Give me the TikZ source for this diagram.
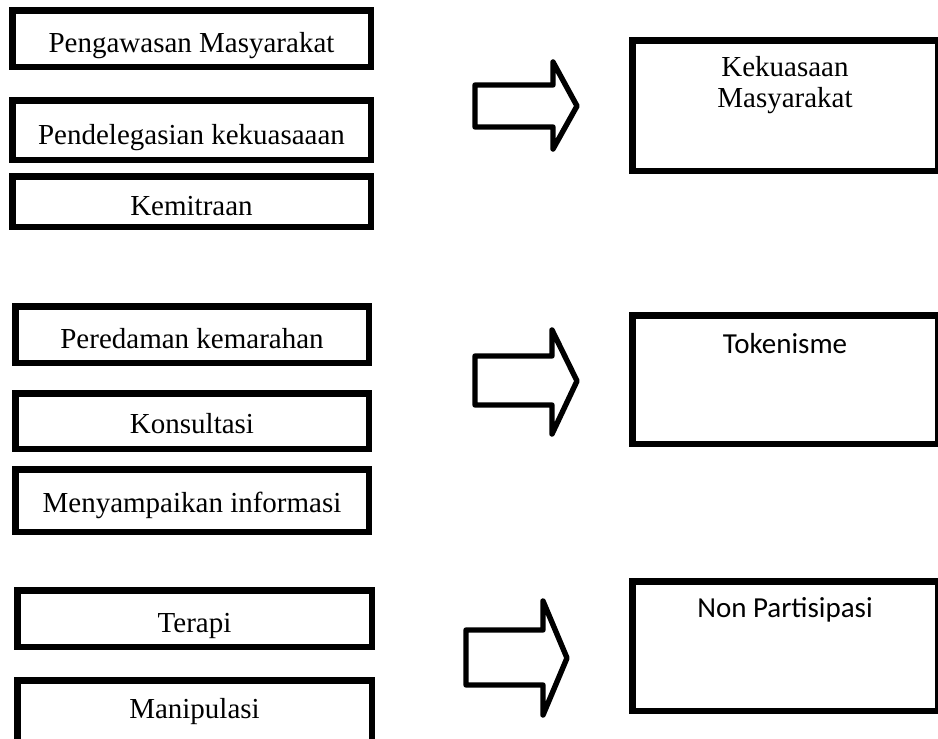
\documentclass[tikz,border=0pt]{standalone}
\usepackage{fontspec}
\setmainfont{Liberation Serif}
\newfontfamily\calibri{Carlito}
\usetikzlibrary{positioning}

\begin{document}
\begin{tikzpicture}[x=0.5pt,y=-0.5pt,
    lvlbox/.style={draw, line width=3.25pt, inner sep=0pt, text height=14pt, text depth=0pt, font=\fontsize{14.5}{16}\selectfont},
    bigbox/.style={draw, line width=3.25pt, minimum width=152.75pt, minimum height=64.5pt, inner sep=0pt},
    title/.style={inner sep=0pt, align=center, font=\fontsize{14.5}{15.5}\selectfont},
    blockarrow/.style={line width=2.7pt, line join=round}]
    \clip (0,0) rectangle (938,739);
    % tangga partisipasi kiri
    \node[lvlbox, minimum width=179.25pt, minimum height=28.25pt] (awas) at (191.5,38.5) {Pengawasan Masyarakat};
    \node[lvlbox, minimum width=179.25pt, minimum height=29.75pt] (deleg) at (191.5,130) {Pendelegasian kekuasaaan};
    \node[lvlbox, minimum width=179.25pt, minimum height=25.25pt] (mitra) at (191.5,201.5) {Kemitraan};
    \node[lvlbox, minimum width=176.75pt, minimum height=28.25pt] (redam) at (192,334.5) {Peredaman kemarahan};
    \node[lvlbox, minimum width=176.75pt, minimum height=27.75pt, text height=12pt] (konsul) at (192,421) {Konsultasi};
    \node[lvlbox, minimum width=176.75pt, minimum height=31.25pt, text height=12pt] (info) at (192,500.5) {Menyampaikan informasi};
    \node[lvlbox, minimum width=177.25pt, minimum height=28.25pt] (terapi) at (194.5,618.5) {Terapi};
    \node[lvlbox, minimum width=177.25pt, minimum height=30.75pt, text height=7pt] (manip) at (194.5,711) {Manipulasi};
    % panah
    \draw[blockarrow] (475,85) -- (553,85) -- (553,62) -- (577,106) -- (553,149) -- (553,127) -- (475,127) -- cycle;
    \draw[blockarrow] (475,356) -- (552,356) -- (552,330) -- (577,381) -- (552,434) -- (552,405) -- (475,405) -- cycle;
    \draw[blockarrow] (466,630) -- (543,630) -- (543,601) -- (567,658) -- (543,715) -- (543,685) -- (466,685) -- cycle;
    % tingkat kanan
    \node[bigbox, minimum height=65.25pt] (kuasa) at (785,105.5) {};
    \node[bigbox, minimum height=64.25pt] (token) at (785,379.5) {};
    \node[bigbox, minimum height=64.75pt] (nonpar) at (785,646) {};
    \node[title] (kuasatxt) at ([yshift=-24pt]kuasa.north) {Kekuasaan\\Masyarakat};
    \node[title, font=\calibri\fontsize{14.5}{16}\selectfont] (tokentxt) at ([yshift=-16pt]token.north) {Tokenisme};
    \node[title, font=\calibri\fontsize{14.5}{16}\selectfont] (nonpartxt) at ([yshift=-16pt]nonpar.north) {Non Partisipasi};
\end{tikzpicture}
\end{document}
